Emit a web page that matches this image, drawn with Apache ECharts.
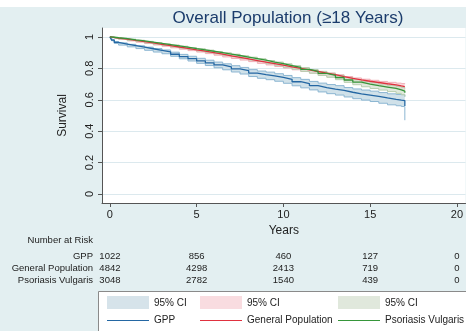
<!DOCTYPE html>
<html><head><meta charset="utf-8">
<script src="https://cdn.jsdelivr.net/npm/echarts@6/dist/echarts.min.js"></script>
<style>html,body{margin:0;padding:0;background:#E3EFF1;}#c{width:466px;height:331px;}</style>
</head><body><div id="c"></div>
<script>
const titleText = 'Overall Population (≥18 Years)';
const times = [0,0.1,0.25,0.5,1,1.5,2,2.5,3,3.5,4,4.5,5,5.5,6,6.5,7,7.5,8,8.5,9,9.5,10,10.5,11,11.5,12,12.5,13,13.5,14,14.5,15,15.5,16,16.5,16.8,17];
const gppS  = [1.000,0.980,0.965,0.955,0.945,0.935,0.925,0.915,0.905,0.890,0.875,0.862,0.848,0.835,0.822,0.810,0.797,0.785,0.770,0.760,0.752,0.742,0.730,0.715,0.703,0.690,0.678,0.668,0.660,0.648,0.638,0.630,0.622,0.612,0.603,0.598,0.595,0.560];
const gppHi = [1.000,0.984,0.971,0.962,0.953,0.944,0.935,0.926,0.917,0.903,0.889,0.877,0.864,0.852,0.840,0.829,0.817,0.806,0.792,0.783,0.776,0.766,0.755,0.741,0.730,0.717,0.706,0.697,0.690,0.678,0.669,0.662,0.655,0.646,0.638,0.634,0.633,0.620];
const gppLo = [1.000,0.976,0.959,0.948,0.937,0.926,0.915,0.904,0.893,0.877,0.861,0.847,0.832,0.818,0.804,0.791,0.777,0.764,0.748,0.737,0.728,0.718,0.705,0.689,0.676,0.663,0.650,0.639,0.630,0.618,0.607,0.598,0.589,0.578,0.568,0.562,0.557,0.470];
const genS  = [1.000,0.997,0.993,0.987,0.978,0.970,0.962,0.953,0.945,0.936,0.927,0.918,0.910,0.900,0.890,0.880,0.870,0.860,0.850,0.840,0.830,0.820,0.810,0.800,0.790,0.780,0.770,0.760,0.748,0.737,0.727,0.718,0.710,0.702,0.695,0.688,0.684,0.680];
const genHi = [1.000,0.998,0.995,0.989,0.981,0.973,0.966,0.957,0.949,0.941,0.932,0.923,0.916,0.906,0.896,0.887,0.877,0.867,0.857,0.848,0.838,0.828,0.818,0.809,0.799,0.789,0.780,0.770,0.759,0.748,0.739,0.731,0.724,0.717,0.711,0.706,0.703,0.700];
const genLo = [1.000,0.996,0.991,0.985,0.975,0.967,0.958,0.949,0.941,0.931,0.922,0.913,0.904,0.894,0.884,0.873,0.863,0.853,0.843,0.832,0.822,0.812,0.802,0.791,0.781,0.771,0.760,0.750,0.737,0.726,0.715,0.705,0.696,0.687,0.679,0.670,0.665,0.660];
const pvS   = [1.000,0.998,0.995,0.990,0.982,0.975,0.967,0.959,0.951,0.943,0.935,0.926,0.918,0.909,0.900,0.891,0.882,0.872,0.862,0.852,0.840,0.830,0.818,0.806,0.793,0.781,0.768,0.756,0.742,0.726,0.712,0.700,0.690,0.681,0.672,0.663,0.655,0.645];
const pvHi  = [1.000,0.999,0.997,0.993,0.986,0.979,0.972,0.964,0.956,0.949,0.941,0.932,0.925,0.916,0.907,0.899,0.890,0.880,0.871,0.861,0.850,0.840,0.829,0.817,0.805,0.793,0.781,0.769,0.756,0.741,0.728,0.717,0.708,0.700,0.692,0.685,0.678,0.670];
const pvLo  = [1.000,0.997,0.993,0.987,0.978,0.971,0.962,0.954,0.946,0.937,0.929,0.920,0.911,0.902,0.893,0.883,0.874,0.864,0.853,0.843,0.830,0.820,0.807,0.795,0.781,0.769,0.755,0.743,0.728,0.711,0.696,0.683,0.672,0.662,0.652,0.641,0.632,0.620];
const groupNames = ['GPP','General Population','Psoriasis Vulgaris'];
const ciLabel = '95% CI';
const xTicks = [0,5,10,15,20];
const yTicks = [0,0.2,0.4,0.6,0.8,1];
const riskHeader = 'Number at Risk';
const riskTimes = [0,5,10,15,20];
const riskGPP = [1022,856,460,127,0];
const riskGen = [4842,4298,2413,719,0];
const riskPV  = [3048,2782,1540,439,0];

const lineColors = ['#2467A3','#E0313F','#36963A'];
const bandFill = ['rgba(205,223,232,0.95)','rgba(248,208,214,0.75)','rgba(214,226,208,0.75)'];
const swatchFill = ['#D6E3EA','#F9DCE0','#E0E8DC'];
const bandEdge = ['#8CB6D2','#F0AEB6','#B7CDAE'];
const FONT = 'Liberation Sans, Arial, sans-serif';

const groups = [[gppS,gppLo,gppHi],[genS,genLo,genHi],[pvS,pvLo,pvHi]];

function stepPts(api, ts, vs){
  const pts = [];
  for(let k=0;k<ts.length;k++){
    if(k>0) pts.push(api.coord([ts[k], vs[k-1]]));
    pts.push(api.coord([ts[k], vs[k]]));
  }
  return pts;
}
const series = [];
groups.forEach((g,i)=>{
  series.push({type:'custom',silent:true,clip:true,data:[0],
    renderItem:(params,api)=>{
      const up = stepPts(api,times,g[2]);
      const lo = stepPts(api,times,g[1]);
      const poly = up.concat(lo.slice().reverse());
      return {type:'group',children:[
        {type:'polygon',shape:{points:poly},style:{fill:bandFill[i],stroke:null}},
        {type:'polyline',shape:{points:up},style:{stroke:bandEdge[i],lineWidth:1,fill:null}},
        {type:'polyline',shape:{points:lo},style:{stroke:bandEdge[i],lineWidth:1,fill:null}}
      ]};
    }});
});
groups.forEach((g,i)=>{
  series.push({type:'line',step:'end',symbol:'none',silent:true,name:groupNames[i],
    data: times.map((t,k)=>[t,g[0][k]]),
    lineStyle:{color:lineColors[i],width:1.3}});
});

const chart = echarts.init(document.getElementById('c'),null,{renderer:'canvas'});
chart.setOption({
  backgroundColor:'#E3EFF1',
  animation:false,
  textStyle:{fontFamily:FONT},
  title:{text:titleText,left:283,top:5,textAlign:'center',
    textStyle:{fontFamily:FONT,fontSize:17,fontWeight:'normal',color:'#1B3C6C'}},
  grid:{left:102,right:-4,top:28,bottom:128,show:true,backgroundColor:'#fff',borderWidth:0},
  xAxis:{type:'value',min:-0.456,max:20.5,
    axisLine:{show:true,onZero:false,lineStyle:{color:'#555',width:1}},
    axisTick:{show:true,length:4,customValues:xTicks,lineStyle:{color:'#555'}},
    axisLabel:{customValues:xTicks,margin:6,fontSize:11,color:'#222',fontFamily:FONT},
    splitLine:{show:false},
    name:'Years',nameLocation:'middle',nameGap:18,
    nameTextStyle:{fontSize:12,color:'#222',fontFamily:FONT}},
  yAxis:{type:'value',min:-0.057,max:1.057,
    axisLine:{show:true,onZero:false,lineStyle:{color:'#555',width:1}},
    axisTick:{show:true,length:4,customValues:yTicks,lineStyle:{color:'#555'}},
    axisLabel:{customValues:yTicks,rotate:90,margin:7,fontSize:11,color:'#222',fontFamily:FONT,
      formatter:v=>String(+(+v).toFixed(1))},
    splitLine:{show:true,lineStyle:{color:'#DCE9EE',width:1}},
    name:'Survival',nameLocation:'middle',nameGap:33,
    nameTextStyle:{fontSize:12,color:'#222',fontFamily:FONT}},
  series: series
});

const g = [];
const fs = 9.5;
g.push({type:'rect',shape:{x:0,y:0,width:466,height:7},style:{fill:'#ffffff'},z:-1});
g.push({type:'text',x:93,y:240,style:{text:riskHeader,fill:'#222',font:fs+'px '+FONT,textAlign:'right',textVerticalAlign:'middle'}});
const riskRows = [riskGPP,riskGen,riskPV];
const rowY = [256,268,280];
riskRows.forEach((row,r)=>{
  g.push({type:'text',x:93,y:rowY[r],style:{text:groupNames[r],fill:'#222',font:fs+'px '+FONT,textAlign:'right',textVerticalAlign:'middle'}});
  row.forEach((v,k)=>{
    const px = chart.convertToPixel({xAxisIndex:0}, riskTimes[k]);
    g.push({type:'text',x:px,y:rowY[r],style:{text:String(v),fill:'#222',font:fs+'px '+FONT,textAlign:'center',textVerticalAlign:'middle'}});
  });
});
g.push({type:'rect',shape:{x:98.5,y:291.5,width:372,height:45},style:{fill:'#fff',stroke:'#8a8a8a',lineWidth:1}});
const colX = [107,200,338];
const swW = 42;
groupNames.forEach((n,i)=>{
  g.push({type:'rect',shape:{x:colX[i],y:296,width:swW,height:13},style:{fill:swatchFill[i]}});
  g.push({type:'text',x:colX[i]+swW+5,y:303,style:{text:ciLabel,fill:'#222',font:'10px '+FONT,textVerticalAlign:'middle'}});
  g.push({type:'line',shape:{x1:colX[i],y1:320.5,x2:colX[i]+swW,y2:320.5},style:{stroke:lineColors[i],lineWidth:1.2}});
  g.push({type:'text',x:colX[i]+swW+5,y:320,style:{text:n,fill:'#222',font:'10px '+FONT,textVerticalAlign:'middle'}});
});
chart.setOption({graphic:{elements:g}});
</script></body></html>
